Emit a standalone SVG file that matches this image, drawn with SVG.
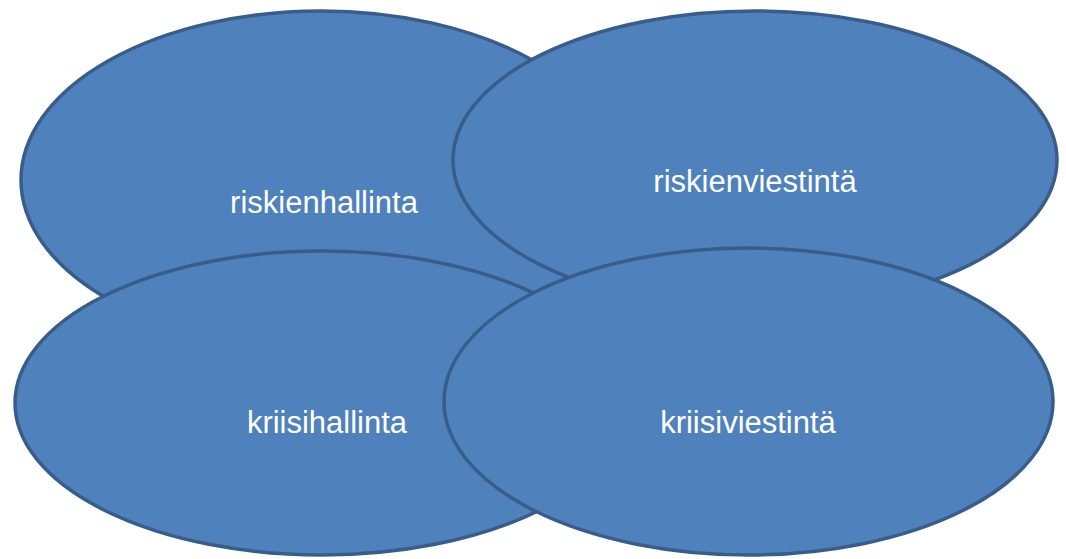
<svg xmlns="http://www.w3.org/2000/svg" width="1066" height="559" viewBox="0 0 1066 559">
  <style>
    .blob { fill: #4F81BD; stroke: #385D8A; stroke-width: 3.5; }
    .label { fill: #FFFFFF; font-family: "Liberation Sans", Arial, sans-serif; font-size: 31px; text-anchor: middle; }
  </style>
  <rect width="1066" height="559" fill="#FFFFFF"/>
  <g id="riskienhallinta">
    <ellipse class="blob" cx="321" cy="180" rx="300" ry="169"/>
    <text class="label" x="324" y="213">riskienhallinta</text>
  </g>
  <g id="riskienviestinta">
    <ellipse class="blob" cx="755" cy="160" rx="302" ry="149"/>
    <text class="label" x="755" y="192">riskienviestintä</text>
  </g>
  <g id="kriisihallinta">
    <ellipse class="blob" cx="322" cy="403" rx="307" ry="152"/>
    <text class="label" x="327" y="433">kriisihallinta</text>
  </g>
  <g id="kriisiviestinta">
    <ellipse class="blob" cx="748.5" cy="401.5" rx="304.5" ry="153.5"/>
    <text class="label" x="748" y="433">kriisiviestintä</text>
  </g>
  <g id="connectors"/>
</svg>
